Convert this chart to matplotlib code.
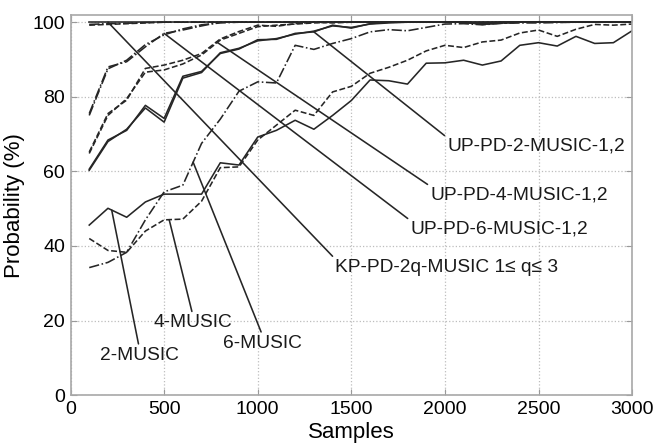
import numpy as np
import matplotlib
matplotlib.use('Agg')
import matplotlib.pyplot as plt

plt.rcParams['font.family'] = ['Liberation Sans', 'DejaVu Sans']

samples = [100, 200, 300, 400, 500, 600, 700, 800, 900, 1000,
           1100, 1200, 1300, 1400, 1500, 1600, 1700, 1800, 1900, 2000,
           2100, 2200, 2300, 2400, 2500, 2600, 2700, 2800, 2900, 3000]

# classical MUSIC
music2 = [45.6, 50.1, 47.7, 51.8, 53.9, 53.9, 53.9, 62.3, 61.7, 69.2,
          71.0, 73.7, 71.3, 75.0, 79.0, 84.5, 84.3, 83.4, 89.0, 89.1,
          89.8, 88.5, 89.6, 93.8, 94.5, 93.6, 96.2, 94.3, 94.5, 97.7]
music4 = [42.0, 38.8, 38.3, 44.0, 47.0, 47.2, 52.0, 61.0, 61.2, 68.4,
          72.4, 76.4, 75.0, 81.3, 82.8, 86.3, 87.9, 89.8, 92.3, 93.8,
          93.2, 94.7, 95.2, 97.1, 97.9, 96.2, 98.1, 99.4, 99.2, 99.5]
music6 = [34.2, 35.6, 38.3, 47.0, 54.5, 56.3, 67.5, 74.0, 81.5, 84.0,
          83.7, 93.8, 92.7, 94.3, 95.6, 97.4, 98.0, 97.7, 98.6, 99.5,
          99.6, 99.3, 99.7, 99.8, 99.8, 99.9, 100, 100, 100, 100]

# UP-PD, versions 1 and 2
up2_v1 = [60.6, 68.4, 71.0, 77.7, 74.2, 85.5, 86.8, 91.6, 92.8, 95.3,
          95.4, 97.0, 97.4, 99.2, 98.4, 99.6, 100, 100, 100, 100,
          100, 99.6, 100, 100, 100, 100, 100, 100, 100, 100]
up2_v2 = [60.3, 68.0, 71.3, 77.0, 73.2, 85.0, 86.5, 91.8, 93.0, 95.0,
          95.6, 96.8, 97.6, 99.0, 98.6, 99.5, 99.8, 100, 100, 100,
          100, 99.4, 99.8, 100, 100, 100, 100, 100, 100, 100]
up4_v1 = [65.2, 75.5, 79.1, 87.6, 88.5, 89.8, 91.6, 95.5, 97.5, 99.2,
          98.9, 99.6, 100, 99.8, 100, 100, 100, 100, 100, 100,
          100, 99.7, 100, 100, 100, 100, 100, 100, 100, 100]
up4_v2 = [64.8, 75.0, 79.5, 86.6, 87.2, 88.8, 91.2, 95.2, 97.0, 98.8,
          99.2, 99.5, 99.8, 100, 100, 100, 100, 100, 100, 100,
          100, 99.5, 99.8, 100, 100, 100, 100, 100, 100, 100]
up6_v1 = [75.5, 88.0, 89.4, 93.4, 97.0, 97.9, 99.0, 100, 100, 100,
          100, 100, 100, 100, 100, 100, 100, 100, 100, 100,
          100, 100, 100, 100, 100, 100, 100, 100, 100, 100]
up6_v2 = [75.0, 87.5, 89.8, 94.0, 96.6, 98.2, 99.3, 99.8, 100, 100,
          100, 100, 100, 100, 100, 100, 100, 100, 100, 100,
          100, 99.6, 100, 100, 100, 100, 100, 100, 100, 100]

# KP-PD-2q, q = 1, 2, 3
kp_q1 = [100, 100, 100, 100, 100, 100, 100, 100, 100, 100,
         100, 100, 100, 100, 100, 100, 100, 100, 100, 100,
         100, 100, 100, 100, 100, 100, 100, 100, 100, 100]
kp_q2 = [99.2, 99.4, 99.6, 99.8, 100, 100, 100, 100, 100, 100,
         100, 100, 100, 100, 100, 100, 100, 100, 100, 100,
         100, 99.5, 99.7, 100, 100, 100, 100, 100, 100, 100]
kp_q3 = [99.4, 99.6, 99.7, 99.9, 100, 100, 100, 100, 100, 100,
         100, 100, 100, 100, 100, 100, 100, 100, 100, 100,
         100, 100, 100, 100, 100, 100, 100, 100, 100, 100]

col = '#262626'
lw = 1.15

fig = plt.figure(figsize=(6.53, 4.44), dpi=100)
ax = fig.add_axes([0.108, 0.110, 0.860, 0.856])

ax.plot(samples, music2, '-', color=col, lw=lw)
ax.plot(samples, music4, '--', color=col, lw=lw)
ax.plot(samples, music6, '-.', color=col, lw=lw)
ax.plot(samples, up2_v1, '-', color=col, lw=lw)
ax.plot(samples, up2_v2, '-', color=col, lw=lw)
ax.plot(samples, up4_v1, '--', color=col, lw=lw)
ax.plot(samples, up4_v2, '--', color=col, lw=lw)
ax.plot(samples, up6_v1, '-.', color=col, lw=lw)
ax.plot(samples, up6_v2, '-.', color=col, lw=lw)
ax.plot(samples, kp_q1, '-', color=col, lw=lw)
ax.plot(samples, kp_q2, '--', color=col, lw=lw)
ax.plot(samples, kp_q3, '-.', color=col, lw=lw)

# leader labels: (text, anchor sample, anchor series, text position, alignment)
labels = [
    ('UP-PD-2-MUSIC-1,2', 1300, up2_v1, (2013, 69.0), 'left', (0, 1)),
    ('UP-PD-4-MUSIC-1,2', 780, up4_v1, (1922, 56.0), 'left', (0, 1)),
    ('UP-PD-6-MUSIC-1,2', 500, up6_v1, (1816, 46.8), 'left', (0, 1)),
    ('KP-PD-2q-MUSIC 1\u2264 q\u2264 3', 200, kp_q1, (1414, 36.5), 'left', (0, 1)),
    ('2-MUSIC', 220, music2, (366, 13.0), 'center', (0.5, 1)),
    ('4-MUSIC', 527, music4, (652, 21.7), 'center', (0.5, 1)),
    ('6-MUSIC', 655, music6, (1024, 16.2), 'center', (0.5, 1)),
]
for txt, s, series, pos, ha, rp in labels:
    v = np.interp(s, samples, series)
    ax.annotate(txt, xy=(s, v), xytext=pos, ha=ha, va='top', fontsize=13.8,
                color='#1a1a1a',
                arrowprops=dict(arrowstyle='-', color=col, lw=lw,
                                shrinkA=0, shrinkB=0, relpos=rp))

ax.set_xlim(0, 3000)
ax.set_ylim(0, 101.9)
ax.set_xticks([0, 500, 1000, 1500, 2000, 2500, 3000])
ax.set_yticks([0, 20, 40, 60, 80, 100])
ax.grid(True, linestyle=':', color='#bdbdbd', lw=0.9)
ax.tick_params(direction='in', length=4, color='#9a9a9a', labelsize=14,
               top=True, right=True, pad=4)
for sp in ax.spines.values():
    sp.set_color('#a8a8a8')
    sp.set_linewidth(1.2)

ax.set_xlabel('Samples', fontsize=16, labelpad=3)
ax.set_ylabel('Probability (%)', fontsize=16, labelpad=5)

fig.savefig('out.png', dpi=100)
